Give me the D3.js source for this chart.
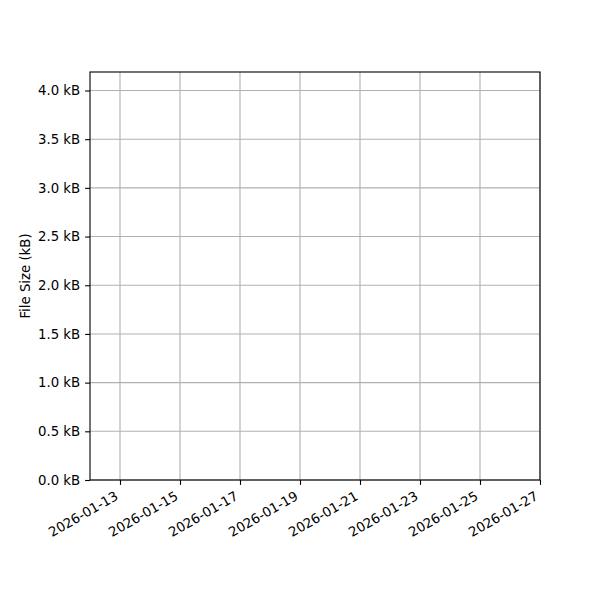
<!DOCTYPE html>
<html lang="en">
<head>
<meta charset="utf-8">
<title>File Size</title>
<script src="https://cdn.jsdelivr.net/npm/d3@7"></script>
<style>
  body { margin:0; background:#fff; }
  text { font-family:"DejaVu Sans", sans-serif; }
</style>
</head>
<body>
<div id="chart"></div>
<script>
// data
var xDomain = ["2026-01-12", "2026-01-27"]
var yDomain = [0, 4.19]
var xTicks = ["2026-01-13","2026-01-15","2026-01-17","2026-01-19","2026-01-21","2026-01-23","2026-01-25","2026-01-27"]
var yTicks = [0, 0.5, 1.0, 1.5, 2.0, 2.5, 3.0, 3.5, 4.0]
var yLabel = "File Size (kB)"

var W = 600, H = 600
var m = {left:90, right:60, top:72, bottom:120}
var parse = d3.utcParse("%Y-%m-%d")
var fmt = d3.utcFormat("%Y-%m-%d")

var svg = d3.select("#chart").append("svg").attr("width", W).attr("height", H)

var x = d3.scaleUtc().domain(xDomain.map(parse)).range([m.left, W - m.right])
var y = d3.scaleLinear().domain(yDomain).range([H - m.bottom, m.top])

// grid
svg.append("g").selectAll("line").data(xTicks.map(parse)).enter().append("line")
  .attr("x1", function(d){ return x(d) }).attr("x2", function(d){ return x(d) })
  .attr("y1", m.top).attr("y2", H - m.bottom)
  .attr("stroke", "#b0b0b0").attr("stroke-width", 1.1)
svg.append("g").selectAll("line").data(yTicks).enter().append("line")
  .attr("x1", m.left).attr("x2", W - m.right)
  .attr("y1", function(d){ return y(d) }).attr("y2", function(d){ return y(d) })
  .attr("stroke", "#b0b0b0").attr("stroke-width", 1.1)

// axes
var xAxis = svg.append("g").attr("transform", "translate(0," + (H - m.bottom) + ")")
  .call(d3.axisBottom(x).tickValues(xTicks.map(parse)).tickFormat(fmt).tickSize(4.9).tickPadding(4.9))
// rotated like matplotlib autofmt_xdate: right-aligned, top-right of box at the tick
xAxis.selectAll("text")
  .attr("font-size", 13.3).attr("fill", "#000")
  .attr("text-anchor", "end")
  .attr("x", 0).attr("y", 0).attr("dy", null)
  .attr("transform", "translate(-1.5,18.7) rotate(-30)")

var yAxis = svg.append("g").attr("transform", "translate(" + m.left + ",0)")
  .call(d3.axisLeft(y).tickValues(yTicks).tickFormat(function(d){ return d3.format(".1f")(d) + " kB" }).tickSize(4.9).tickPadding(4.9))
yAxis.selectAll("text").attr("font-size", 13.3).attr("fill", "#000")

svg.selectAll(".domain").remove()
svg.selectAll(".tick line").attr("stroke", "#000").attr("stroke-width", 1.1)

// frame
svg.append("rect").attr("x", m.left).attr("y", m.top)
  .attr("width", W - m.left - m.right).attr("height", H - m.top - m.bottom)
  .attr("fill", "none").attr("stroke", "#000").attr("stroke-width", 1.1)

svg.append("text")
  .attr("transform", "translate(30," + ((m.top + H - m.bottom) / 2) + ") rotate(-90)")
  .attr("text-anchor", "middle").attr("font-size", 13.3).text(yLabel)
</script>
</body>
</html>
